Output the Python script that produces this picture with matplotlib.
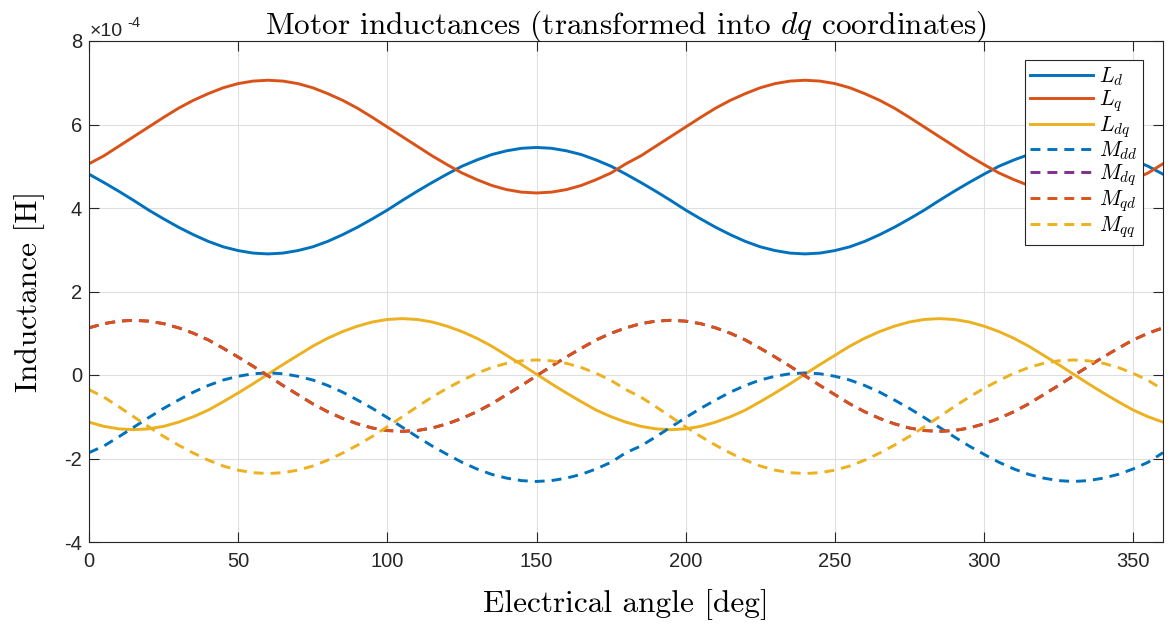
import matplotlib
import matplotlib.pyplot as plt
from matplotlib.ticker import FuncFormatter, MultipleLocator

matplotlib.use("Agg")

BLUE = "#0072BD"
ORANGE = "#D95319"
YELLOW = "#EDB120"
PURPLE = "#7E2F8E"
AXIS = "#262626"

SCALE = 1e-4

# electrical angle samples [deg]
angle = list(range(0, 361, 5))

# inductances, in units of 1e-4 H
L_d = [4.81, 4.61, 4.40, 4.18, 3.95, 3.74, 3.54, 3.36, 3.20, 3.07, 2.98, 2.92,
       2.90, 2.92, 2.98, 3.07, 3.20, 3.36, 3.54, 3.74, 3.95, 4.18, 4.40, 4.61,
       4.81, 5.00, 5.15, 5.28, 5.37, 5.43, 5.45, 5.43, 5.37, 5.28, 5.15, 5.00,
       4.81, 4.61, 4.40, 4.18, 3.95, 3.74, 3.54, 3.36, 3.20, 3.07, 2.98, 2.92,
       2.90, 2.92, 2.98, 3.07, 3.20, 3.36, 3.54, 3.74, 3.95, 4.18, 4.40, 4.61,
       4.81, 5.00, 5.15, 5.28, 5.37, 5.43, 5.45, 5.43, 5.37, 5.28, 5.15, 5.00,
       4.81]
L_q = [5.06, 5.25, 5.48, 5.71, 5.94, 6.17, 6.39, 6.58, 6.74, 6.88, 6.98, 7.04,
       7.06, 7.04, 6.98, 6.88, 6.74, 6.58, 6.39, 6.17, 5.94, 5.71, 5.48, 5.25,
       5.04, 4.84, 4.68, 4.54, 4.44, 4.38, 4.36, 4.38, 4.44, 4.54, 4.68, 4.84,
       5.06, 5.25, 5.48, 5.71, 5.94, 6.17, 6.39, 6.58, 6.74, 6.88, 6.98, 7.04,
       7.06, 7.04, 6.98, 6.88, 6.74, 6.58, 6.39, 6.17, 5.94, 5.71, 5.48, 5.25,
       5.04, 4.84, 4.68, 4.54, 4.44, 4.38, 4.36, 4.38, 4.44, 4.54, 4.68, 4.84,
       5.06]
L_dq = [-1.13, -1.23, -1.29, -1.31, -1.29, -1.23, -1.13, -1.00, -0.84, -0.64,
        -0.43, -0.21, 0.02, 0.25, 0.47, 0.69, 0.88, 1.04, 1.17, 1.27, 1.33, 1.35,
        1.33, 1.27, 1.17, 1.04, 0.88, 0.69, 0.47, 0.25, 0.02, -0.21, -0.43,
        -0.64, -0.84, -1.00,
        -1.13, -1.23, -1.29, -1.31, -1.29, -1.23, -1.13, -1.00, -0.84, -0.64,
        -0.43, -0.21, 0.02, 0.25, 0.47, 0.69, 0.88, 1.04, 1.17, 1.27, 1.33, 1.35,
        1.33, 1.27, 1.17, 1.04, 0.88, 0.69, 0.47, 0.25, 0.02, -0.21, -0.43,
        -0.64, -0.84, -1.00, -1.13]
M_dd = [-1.86, -1.70, -1.48, -1.25, -1.02, -0.80, -0.60, -0.41, -0.25, -0.12,
        -0.03, 0.03, 0.05, 0.03, -0.03, -0.12, -0.25, -0.41, -0.60, -0.80, -1.02,
        -1.25, -1.48, -1.70, -1.90, -2.09, -2.25, -2.38, -2.47, -2.53, -2.55,
        -2.53, -2.47, -2.38, -2.25, -2.09,
        -1.86, -1.70, -1.48, -1.25, -1.02, -0.80, -0.60, -0.41, -0.25, -0.12,
        -0.03, 0.03, 0.05, 0.03, -0.03, -0.12, -0.25, -0.41, -0.60, -0.80, -1.02,
        -1.25, -1.48, -1.70, -1.90, -2.09, -2.25, -2.38, -2.47, -2.53, -2.55,
        -2.53, -2.47, -2.38, -2.25, -2.09, -1.86]
M_qd = [1.13, 1.23, 1.29, 1.31, 1.29, 1.23, 1.13, 1.00, 0.84, 0.64, 0.43, 0.21,
        -0.02, -0.25, -0.47, -0.69, -0.88, -1.04, -1.17, -1.27, -1.33, -1.35,
        -1.33, -1.27, -1.17, -1.04, -0.88, -0.69, -0.47, -0.25, -0.02, 0.21,
        0.43, 0.64, 0.84, 1.00,
        1.13, 1.23, 1.29, 1.31, 1.29, 1.23, 1.13, 1.00, 0.84, 0.64, 0.43, 0.21,
        -0.02, -0.25, -0.47, -0.69, -0.88, -1.04, -1.17, -1.27, -1.33, -1.35,
        -1.33, -1.27, -1.17, -1.04, -0.88, -0.69, -0.47, -0.25, -0.02, 0.21,
        0.43, 0.64, 0.84, 1.00, 1.13]
# M_dq coincides with M_qd and is drawn underneath it
M_dq = [1.13, 1.23, 1.29, 1.31, 1.29, 1.23, 1.13, 1.00, 0.84, 0.64, 0.43, 0.21,
        -0.02, -0.25, -0.47, -0.69, -0.88, -1.04, -1.17, -1.27, -1.33, -1.35,
        -1.33, -1.27, -1.17, -1.04, -0.88, -0.69, -0.47, -0.25, -0.02, 0.21,
        0.43, 0.64, 0.84, 1.00,
        1.13, 1.23, 1.29, 1.31, 1.29, 1.23, 1.13, 1.00, 0.84, 0.64, 0.43, 0.21,
        -0.02, -0.25, -0.47, -0.69, -0.88, -1.04, -1.17, -1.27, -1.33, -1.35,
        -1.33, -1.27, -1.17, -1.04, -0.88, -0.69, -0.47, -0.25, -0.02, 0.21,
        0.43, 0.64, 0.84, 1.00, 1.13]
M_qq = [-0.35, -0.53, -0.76, -1.00, -1.24, -1.47, -1.68, -1.87, -2.04, -2.18,
        -2.28, -2.34, -2.36, -2.34, -2.28, -2.18, -2.04, -1.87, -1.68, -1.47,
        -1.24, -1.00, -0.76, -0.53, -0.32, -0.13, 0.04, 0.18, 0.28, 0.34, 0.36,
        0.34, 0.28, 0.18, 0.04, -0.13,
        -0.35, -0.53, -0.76, -1.00, -1.24, -1.47, -1.68, -1.87, -2.04, -2.18,
        -2.28, -2.34, -2.36, -2.34, -2.28, -2.18, -2.04, -1.87, -1.68, -1.47,
        -1.24, -1.00, -0.76, -0.53, -0.32, -0.13, 0.04, 0.18, 0.28, 0.34, 0.36,
        0.34, 0.28, 0.18, 0.04, -0.13, -0.35]

series = [
    (L_d, BLUE, "-", r"$L_d$"),
    (L_q, ORANGE, "-", r"$L_q$"),
    (L_dq, YELLOW, "-", r"$L_{dq}$"),
    (M_dd, BLUE, "--", r"$M_{dd}$"),
    (M_dq, PURPLE, "--", r"$M_{dq}$"),
    (M_qd, ORANGE, "--", r"$M_{qd}$"),
    (M_qq, YELLOW, "--", r"$M_{qq}$"),
]

plt.rcParams["mathtext.fontset"] = "cm"
plt.rcParams["font.family"] = ["Liberation Sans", "DejaVu Sans"]

fig = plt.figure(figsize=(11.71, 6.32), dpi=100)
ax = fig.add_axes([89 / 1171, 90 / 632, 1074 / 1171, 501 / 632])

for values, color, style, label in series:
    line, = ax.plot(angle, [v * SCALE for v in values], color=color, lw=2.1,
                    linestyle=style, label=label)
    if style == "--":
        line.set_dashes((3.4, 2.4))

ax.set_xlim(0, 360)
ax.set_ylim(-4 * SCALE, 8 * SCALE)
ax.xaxis.set_major_locator(MultipleLocator(50))
ax.yaxis.set_major_locator(MultipleLocator(2 * SCALE))
ax.yaxis.set_major_formatter(FuncFormatter(lambda v, pos: f"{v / SCALE:.0f}".replace("\u2212", "-")))

ax.grid(True, color="#dfdfdf", lw=0.8)
ax.set_axisbelow(True)
for spine in ax.spines.values():
    spine.set_color(AXIS)
    spine.set_linewidth(0.8)
ax.tick_params(direction="in", length=7.5, width=0.8, color=AXIS,
               labelcolor=AXIS, labelsize=14.5, top=True, right=True)
ax.tick_params(axis="x", pad=7)
ax.tick_params(axis="y", pad=5)

ax.set_title("Motor inductances (transformed into $dq$ coordinates)",
             fontfamily="cmr10", fontsize=22.5, pad=5)
ax.set_xlabel("Electrical angle [deg]", fontfamily="cmr10", fontsize=22.5, labelpad=13)
ax.set_ylabel("Inductance [H]", fontfamily="cmr10", fontsize=22.5, labelpad=14)

# exponent marker above the y axis
fig.text(90 / 1171, 1 - 36 / 632, "\u00d710", fontsize=14, color=AXIS, va="baseline")
fig.text(127 / 1171, 1 - 27 / 632, "-4", fontsize=10.5, color=AXIS, va="baseline")

leg = ax.legend(loc="upper right", bbox_to_anchor=(0.9814, 0.962), borderaxespad=0,
                fontsize=15.5, handlelength=2.9, handletextpad=0.3,
                labelspacing=0.0, fancybox=False, framealpha=1,
                edgecolor=AXIS, borderpad=0.25)
leg.get_frame().set_linewidth(0.8)

fig.savefig("out.png", dpi=100)
plt.close(fig)
